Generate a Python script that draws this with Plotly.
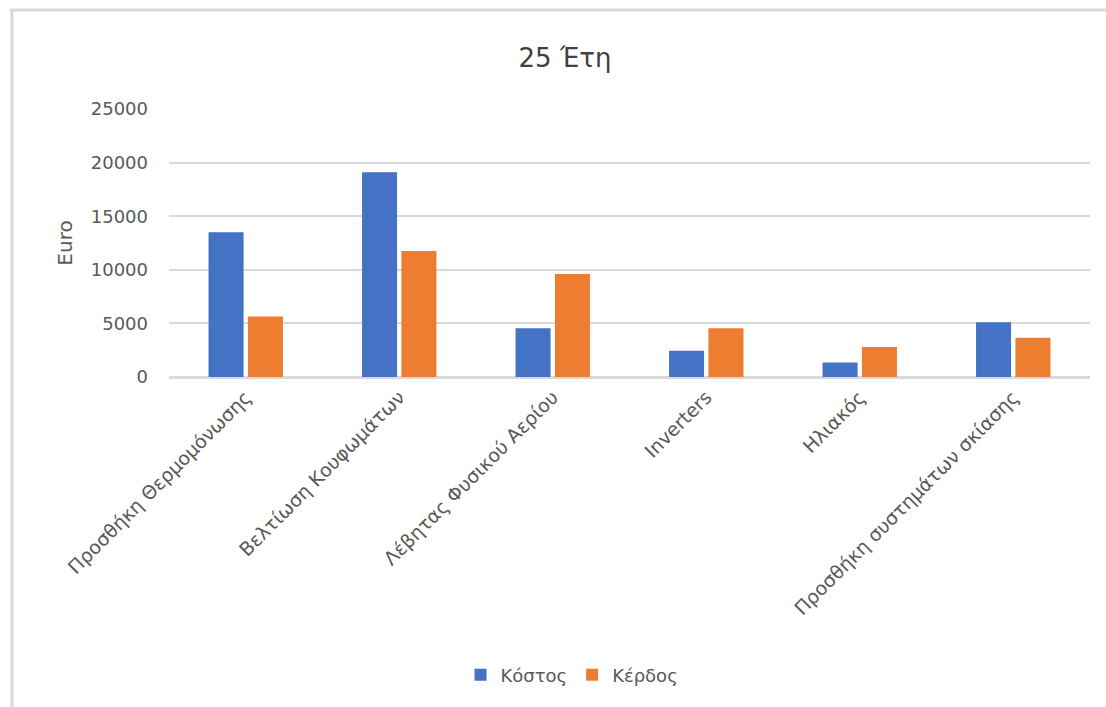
import plotly.graph_objects as go

categories = ["Προσθήκη Θερμομόνωσης", "Βελτίωση Κουφωμάτων", "Λέβητας Φυσικού Αερίου",
              "Inverters", "Ηλιακός", "Προσθήκη συστημάτων σκίασης"]
kostos = [13500, 19100, 4550, 2450, 1350, 5100]
kerdos = [5650, 11750, 9600, 4550, 2800, 3650]
y_ticks = [0, 5000, 10000, 15000, 20000, 25000]

W, H = 1106, 707
FONT = "DejaVu Sans"
GRAY = "#595959"

fig = go.Figure()
fig.add_trace(go.Bar(name="Κόστος", x=categories, y=kostos, marker_color="#4472C4",
                     marker_line_width=0))
fig.add_trace(go.Bar(name="Κέρδος", x=categories, y=kerdos, marker_color="#ED7D31",
                     marker_line_width=0))

fig.update_layout(
    width=W, height=H,
    margin=dict(l=169, r=16, t=109, b=330),
    paper_bgcolor="white", plot_bgcolor="white",
    barmode="group", bargap=0.487, bargroupgap=0.11,
    font=dict(family=FONT, color=GRAY),
    title=dict(text="25 Έτη", x=565 / W, xref="container", xanchor="center",
               y=1 - 58 / H, yref="container", yanchor="middle",
               font=dict(size=26, color="#404040", family=FONT)),
    legend=dict(orientation="h", xref="container", yref="container",
                x=572 / W, xanchor="center", y=1 - 675 / H, yanchor="middle",
                font=dict(size=18, color=GRAY, family=FONT),
                itemwidth=30, traceorder="normal"),
    xaxis=dict(tickangle=-45, tickfont=dict(size=19, color=GRAY, family=FONT),
               showgrid=False, showline=True, linecolor="#d9d9d9", linewidth=1.5,
               ticks=""),
    yaxis=dict(range=[0, 25000], tickvals=y_ticks, ticktext=[str(v) for v in y_ticks],
               tickfont=dict(size=18, color=GRAY, family=FONT),
               showgrid=True, gridcolor="#d9d9d9", gridwidth=1.5,
               zeroline=True, zerolinecolor="#d9d9d9", zerolinewidth=1.5,
               showline=False, ticks="", ticklabelstandoff=20,
               title=dict(text="Euro", font=dict(size=20, color=GRAY, family=FONT),
                          standoff=12)),
    showlegend=True,
)

# outer chart border (top and left edges visible)
fig.add_shape(type="line", xref="paper", yref="paper", x0=-159 / 921, x1=1.05,
              y0=1 + 99 / 268, y1=1 + 99 / 268, line=dict(color="#d9d9d9", width=3))
fig.add_shape(type="line", xref="paper", yref="paper", x0=-157 / 921, x1=-157 / 921,
              y0=1 + 99 / 268, y1=-1.3, line=dict(color="#d9d9d9", width=3))

fig.write_html("out.html")
